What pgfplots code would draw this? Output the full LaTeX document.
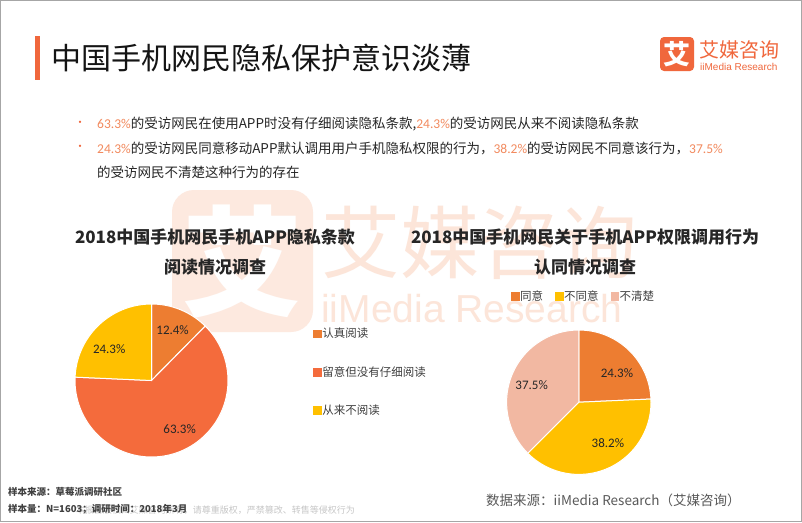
\documentclass[border=0pt]{standalone}
\usepackage{fontspec}
\setmainfont{Noto Sans CJK SC}
\newfontfamily\lat{Carlito}
\newfontfamily\arial{Liberation Sans}
\usepackage{pgfplots}
\usepackage{pgfplotstable}
\pgfplotsset{compat=1.18}

\definecolor{brand}{HTML}{F0673C}
\definecolor{pa}{HTML}{ED7D31}
\definecolor{pb}{HTML}{F46B3C}
\definecolor{pc}{HTML}{FFC000}
\definecolor{pd}{HTML}{F2B8A2}
\definecolor{hl}{HTML}{F28A5E}
\definecolor{txt}{HTML}{262626}
\definecolor{lg}{HTML}{404040}
\definecolor{wm}{HTML}{FDE9DF}
\definecolor{wmt}{HTML}{FCE5D9}

\pgfplotstableread{
share
12.4
63.3
24.3
}\pieone
\pgfplotstableread{
share
24.3
38.2
37.5
}\pietwo

\newcommand{\pieslice}[4]{\fill[#1,draw=white,line width=1pt] (axis cs:0,0) -- (axis cs:{cos(#2)},{sin(#2)}) arc[start angle=#2,end angle=#3,radius=#4] -- cycle;}

\begin{document}
\begin{tikzpicture}
\begin{scope}[x=1pt,y=-1pt]
\path[use as bounding box] (0,0) rectangle (802,522);
\fill[white] (0,0) rectangle (802,522);
% watermark
\fill[wm, rounded corners=22pt] (172,190) rectangle (313,332);
\node[text=white, font=\fontsize{120}{120}\selectfont\bfseries, inner sep=0] at (242,262) {艾};
\node[anchor=west, text=wmt, font=\fontsize{79}{80}\selectfont, inner sep=0] at (321,243) {艾媒咨询};
\node[anchor=west, text=wmt, font=\arial\fontsize{39}{40}\selectfont, inner sep=0] at (321,309) {iiMedia Research};
% frame
\draw[gray!70, line width=1pt] (0.5,0.5) rectangle (801.5,521.5);
% title
\fill[brand] (35,36) rectangle (40,80);
\node[anchor=west, inner sep=0, text=black!92, font=\fontsize{30}{30}\selectfont] at (51,58) {中国手机网民隐私保护意识淡薄};
% logo
\fill[brand, rounded corners=4pt] (660,37) rectangle (694,71);
\node[text=white, inner sep=0, font=\fontsize{27}{27}\selectfont\bfseries] at (677,54) {艾};
\node[anchor=west, inner sep=0, text=brand, font=\fontsize{20}{20}\selectfont] at (699,50) {艾媒咨询};
\node[anchor=west, inner sep=0, text=brand, font=\arial\fontsize{10}{10}\selectfont] at (700,67) {iiMedia Research};
% bullets
\node[text=brand, inner sep=0, font=\fontsize{11}{11}\selectfont] at (80,124) {•};
\node[text=brand, inner sep=0, font=\fontsize{11}{11}\selectfont] at (80,148) {•};
\begin{scope}[every node/.style={anchor=west, inner sep=0, text=txt, font=\fontsize{13.5}{14}\selectfont}]
\node at (97,124) {\textcolor{hl}{\lat 63.3\%}的受访网民在使用APP时没有仔细阅读隐私条款,\textcolor{hl}{\lat 24.3\%}的受访网民从来不阅读隐私条款};
\node at (97,148) {\textcolor{hl}{\lat 24.3\%}的受访网民同意移动APP默认调用用户手机隐私权限的行为，\textcolor{hl}{\lat 38.2\%}的受访网民不同意该行为，\textcolor{hl}{\lat 37.5\%}};
\node at (97,172) {的受访网民不清楚这种行为的存在};
\end{scope}
% chart titles
\begin{scope}[every node/.style={inner sep=0, text=txt, font=\fontsize{17}{17}\selectfont\bfseries}]
\node at (215,237) {2018中国手机网民手机APP隐私条款};
\node at (215,267) {阅读情况调查};
\node at (585,237) {2018中国手机网民关于手机APP权限调用行为};
\node at (585,267) {认同情况调查};
\end{scope}
% footer
\node[anchor=east, inner sep=0, text=gray!45, font=\fontsize{9}{9}\selectfont] at (355,510) {本报告版权归艾媒咨询所有，请尊重版权，严禁篡改、转售等侵权行为};
\node[anchor=west, inner sep=0, text=lg, font=\fontsize{9.5}{10}\selectfont\bfseries] at (8,492) {样本来源：草莓派调研社区};
\node[anchor=west, inner sep=0, text=lg, font=\fontsize{9.5}{10}\selectfont\bfseries] at (8,509) {样本量：N=1603；调研时间：2018年3月};
\node[anchor=west, inner sep=0, text=black!65, font=\fontsize{13.5}{14}\selectfont] at (486,500) {数据来源：iiMedia Research（艾媒咨询）};
\end{scope}

\pgfplotstablegetelem{0}{share}\of\pieone \pgfmathsetmacro\oA{\pgfplotsretval}
\pgfplotstablegetelem{1}{share}\of\pieone \pgfmathsetmacro\oB{\pgfplotsretval}
\pgfplotstablegetelem{2}{share}\of\pieone \pgfmathsetmacro\oC{\pgfplotsretval}
\pgfmathsetmacro\oAe{90-3.6*\oA}
\pgfmathsetmacro\oBe{\oAe-3.6*\oB}
\pgfmathsetmacro\oCe{\oBe-3.6*\oC}
\pgfplotstablegetelem{0}{share}\of\pietwo \pgfmathsetmacro\tA{\pgfplotsretval}
\pgfplotstablegetelem{1}{share}\of\pietwo \pgfmathsetmacro\tB{\pgfplotsretval}
\pgfplotstablegetelem{2}{share}\of\pietwo \pgfmathsetmacro\tC{\pgfplotsretval}
\pgfmathsetmacro\tAe{90-3.6*\tA}
\pgfmathsetmacro\tBe{\tAe-3.6*\tB}
\pgfmathsetmacro\tCe{\tBe-3.6*\tC}

% pie 1
\begin{axis}[at={(151.5pt,-380.5pt)}, anchor=center, width=153pt, height=153pt, scale only axis,
  xmin=-1, xmax=1, ymin=-1, ymax=1, hide axis, clip=false,
  legend cell align=left,
  legend style={at={(1.556,0.556)}, anchor=west, draw=none, fill=none, text=lg,
    font=\fontsize{11.5}{12}\selectfont, row sep=25pt, inner sep=0pt, nodes={inner sep=1pt}}]
\pieslice{pa}{90}{\oAe}{76.5pt}
\pieslice{pb}{\oAe}{\oBe}{76.5pt}
\pieslice{pc}{\oBe}{\oCe}{76.5pt}
\node[text=txt, font=\lat\fontsize{13}{13}\selectfont] at (axis cs:0.276,0.658) {12.4\%};
\node[text=txt, font=\lat\fontsize{13}{13}\selectfont] at (axis cs:-0.553,0.408) {24.3\%};
\node[text=txt, font=\lat\fontsize{13}{13}\selectfont] at (axis cs:0.368,-0.632) {63.3\%};
\addlegendimage{legend image code/.code={\fill[pa] (0pt,-3.8pt) rectangle (7.6pt,3.8pt);}}
\addlegendentry{认真阅读}
\addlegendimage{legend image code/.code={\fill[pb] (0pt,-3.8pt) rectangle (7.6pt,3.8pt);}}
\addlegendentry{留意但没有仔细阅读}
\addlegendimage{legend image code/.code={\fill[pc] (0pt,-3.8pt) rectangle (7.6pt,3.8pt);}}
\addlegendentry{从来不阅读}
\end{axis}

% pie 2
\begin{axis}[at={(578.8pt,-402.2pt)}, anchor=center, width=144.4pt, height=144.4pt, scale only axis,
  xmin=-1, xmax=1, ymin=-1, ymax=1, hide axis, clip=false,
  legend columns=3, legend cell align=left,
  legend style={at={(0.03,1.235)}, anchor=west, draw=none, fill=none, text=lg,
    font=\fontsize{11.5}{12}\selectfont, inner sep=0pt, nodes={inner sep=1pt}}]
\pieslice{pa}{90}{\tAe}{72.2pt}
\pieslice{pc}{\tAe}{\tBe}{72.2pt}
\pieslice{pd}{\tBe}{\tCe}{72.2pt}
\node[text=txt, font=\lat\fontsize{13}{13}\selectfont] at (axis cs:0.528,0.403) {24.3\%};
\node[text=txt, font=\lat\fontsize{13}{13}\selectfont] at (axis cs:-0.653,0.236) {37.5\%};
\node[text=txt, font=\lat\fontsize{13}{13}\selectfont] at (axis cs:0.403,-0.569) {38.2\%};
\addlegendimage{legend image code/.code={\fill[pa] (0pt,-3.8pt) rectangle (7.6pt,3.8pt);}}
\addlegendentry{同意\rule{11pt}{0pt}}
\addlegendimage{legend image code/.code={\fill[pc] (0pt,-3.8pt) rectangle (7.6pt,3.8pt);}}
\addlegendentry{不同意\rule{11pt}{0pt}}
\addlegendimage{legend image code/.code={\fill[pd] (0pt,-3.8pt) rectangle (7.6pt,3.8pt);}}
\addlegendentry{不清楚}
\end{axis}
\end{tikzpicture}
\end{document}
